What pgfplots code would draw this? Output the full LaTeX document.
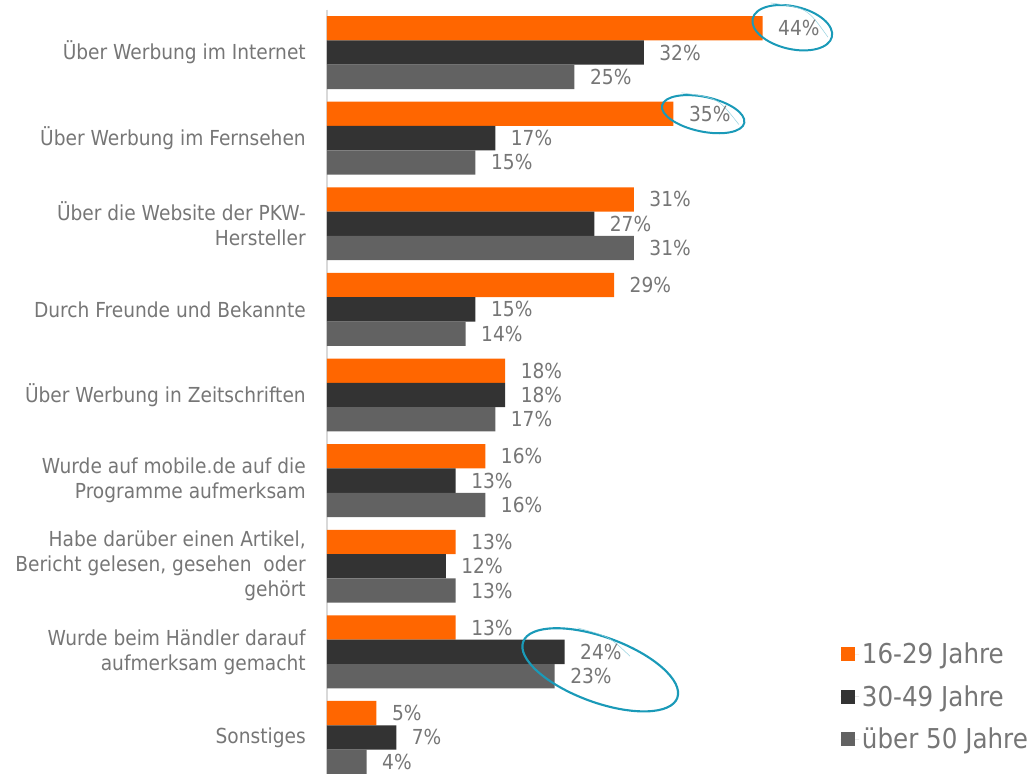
\documentclass[border=0pt]{standalone}
\usepackage{fontspec}
\setmainfont{DejaVu Sans}[FakeStretch=0.9]
\usepackage{pgfplots}
\usepackage{pgfplotstable}
\usetikzlibrary{calc}
\pgfplotsset{compat=1.18}

\definecolor{orng}{HTML}{FF6600}
\definecolor{dark}{HTML}{333333}
\definecolor{grey}{HTML}{626262}
\definecolor{txt}{HTML}{767676}
\definecolor{axl}{HTML}{D9D9D9}
\definecolor{ring}{HTML}{1A9AB8}

% Kenntnis der Programme nach Altersgruppe (in %)
\pgfplotstableread{
idx jung mittel alt
0 44 32 25
1 35 17 15
2 31 27 31
3 29 15 14
4 18 18 17
5 16 13 16
6 13 12 13
7 13 24 23
8 5 7 4
}\data

\begin{document}
\begin{tikzpicture}
\begin{axis}[
    name=ax,
    scale only axis,
    width=371.25pt,   % 495 px
    height=577.9pt,   % ~771 px
    xmin=0, xmax=50,
    ymin=-0.5, ymax=8.5,
    y dir=reverse,
    xbar=0pt,
    bar width=0.284,
    axis x line=none,
    axis y line=left,
    axis line style={-, draw=axl, line width=0.9pt},
    tick align=outside,
    major tick length=6pt,
    ytick={0,...,8},
    ytick style={draw=none},
    yticklabels={
        {Über Werbung im Internet},
        {Über Werbung im Fernsehen},
        {Über die Website der PKW-\\Hersteller},
        {Durch Freunde und Bekannte},
        {Über Werbung in Zeitschriften},
        {Wurde auf mobile.de auf die\\Programme aufmerksam},
        {Habe darüber einen Artikel,\\Bericht gelesen, gesehen\ \ oder\\gehört},
        {Wurde beim Händler darauf\\aufmerksam gemacht},
        {Sonstiges}},
    yticklabel style={align=right, inner sep=0pt, xshift=-9.75pt,
        font=\fontsize{15.5}{18.75}\selectfont, text=txt},
    extra y ticks={-0.5,0.5,...,8.5},
    extra y tick labels={},
    extra y tick style={major tick style={draw=axl, line width=0.9pt}},
    nodes near coords={\pgfmathprintnumber[assume math mode=true]{\pgfplotspointmeta}\%},
    every node near coord/.append style={anchor=west, inner sep=0pt,
        xshift=11.5pt, font=\fontsize{15.5}{18.75}\selectfont, text=txt},
    legend image code/.code={\fill[#1] (0pt,-5.25pt) rectangle (10.5pt,5.25pt);
        \path (0pt,0pt) -- (14pt,0pt);},
    legend style={draw=none, fill=none, at={(1.037,0.182)}, anchor=north west,
        font=\fontsize{20.5}{24}\selectfont, text=txt,
        row sep=10.8pt, inner sep=0pt},
    legend cell align=left,
    clip=false,
]
\addplot[fill=orng, draw=none, bar shift=-0.284] table[x=jung, y=idx] {\data};
\addplot[fill=dark, draw=none, bar shift=0] table[x=mittel, y=idx] {\data};
\addplot[fill=grey, draw=none, bar shift=0.284] table[x=alt, y=idx] {\data};
\legend{16-29 Jahre, 30-49 Jahre, über 50 Jahre}

% handgezeichnete Markierungen
\draw[ring, line width=1.5pt, rotate around={-13:(axis cs:47,-0.29)}]
    (axis cs:47,-0.29) ellipse [x radius=30.5pt, y radius=16pt];
\draw[ring!45, line width=0.4pt] (axis cs:44.8,-0.58) .. controls (axis cs:48.5,-0.52) .. (axis cs:50.6,-0.18);
\draw[ring, line width=1.5pt, rotate around={-12:(axis cs:38,0.72)}]
    (axis cs:38,0.72) ellipse [x radius=31.5pt, y radius=13pt];
\draw[ring!45, line width=0.4pt] (axis cs:35.8,0.47) .. controls (axis cs:39.5,0.53) .. (axis cs:41.6,0.84);
\draw[ring, line width=1.6pt, rotate around={-20:(axis cs:27.6,7.21)}]
    (axis cs:27.6,7.21) ellipse [x radius=61.5pt, y radius=24.5pt];
\draw[ring!45, line width=0.4pt] (axis cs:25.3,6.72) .. controls (axis cs:28.5,6.82) .. (axis cs:30.6,7.05);
\end{axis}
\pgfresetboundingbox
\path[use as bounding box] ($(ax.north west)+(-245.25pt,7.3pt)$) rectangle ++(771pt,-580.5pt);
\end{tikzpicture}
\end{document}
